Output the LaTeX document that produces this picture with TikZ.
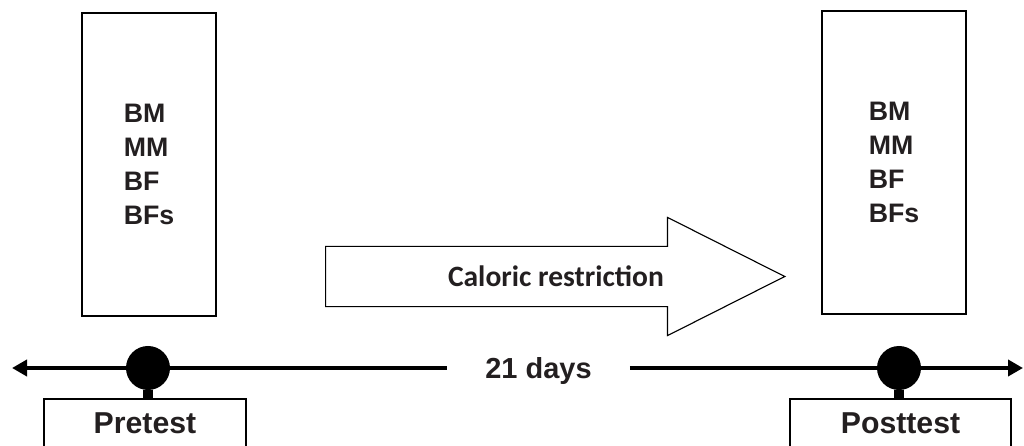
\documentclass[tikz,border=0pt]{standalone}
\usepackage{fontspec}
\setmainfont{Liberation Sans}
\newfontfamily\calibri{Carlito}
\usetikzlibrary{shapes.arrows,arrows.meta}
\definecolor{ink}{HTML}{231F20}

\begin{document}
\begin{tikzpicture}[x=0.025cm,y=-0.025cm]
      \tikzset{measbox/.style={draw, line width=1.4pt,
          minimum width=#1, minimum height=7.575cm,
          align=left, text=ink,
          font=\fontsize{19}{24.2}\selectfont\bfseries},
        timedot/.style={fill=black, circle, inner sep=0pt,
          minimum size=1.1cm},
        testbox/.style={draw, line width=1.4pt, anchor=north,
          minimum width=#1, text height=0.5cm, text depth=1cm,
          inner ysep=0.375cm, text=ink,
          font=\fontsize{21.5}{25}\selectfont\bfseries},
        timeline/.style={line width=2.8pt}
      }
      \useasboundingbox (0,0) rectangle (1024,446);
      \clip (0,0) rectangle (1024,446);

      \node [measbox=3.35cm] (pre list) at (149,164.5) {BM\\MM\\BF\\BFs};
      \node [measbox=3.6cm] (post list) at (894,162.5) {BM\\MM\\BF\\BFs};

      \node [draw, single arrow, line width=0.8pt, anchor=tip,
        single arrow head extend=0.725cm, single arrow tip angle=53.5,
        minimum height=11.475cm, minimum width=2.925cm,
        inner ysep=0.525cm, text height=0.425cm, text depth=0pt]
        (diet) at (786,276.5) {};
      \node [text=ink, font=\calibri\fontsize{21}{24}\selectfont\bfseries]
        (diet label) at (556,276.5) {Caloric restriction};

      % time axis
      \node [timedot] (pre dot) at (148,368) {};
      \node [timedot] (post dot) at (899,368) {};
      \node [text height=0.525cm, text depth=0pt, inner xsep=0.95cm, text=ink,
        font=\fontsize{20.6}{24}\selectfont\bfseries] (days) at (538.5,368) {21 days};
      \coordinate (past) at (12,368);
      \coordinate (future) at (1023,368);
      \draw [timeline, -{Triangle[length=0.375cm,width=0.4cm]}] (pre dot) -- (past);
      \draw [timeline] (pre dot) -- (days);
      \draw [timeline] (days) -- (post dot);
      \draw [timeline, -{Triangle[length=0.375cm,width=0.4cm]}] (post dot) -- (future);

      \node [testbox=5.05cm] (pretest) at (145,398) {Pretest};
      \node [testbox=5.525cm] (posttest) at (900.5,398) {Posttest};
      \draw [line width=0.25cm] (pre dot) -- (pre dot |- pretest.north);
      \draw [line width=0.25cm] (post dot) -- (post dot |- posttest.north);
\end{tikzpicture}
\end{document}
